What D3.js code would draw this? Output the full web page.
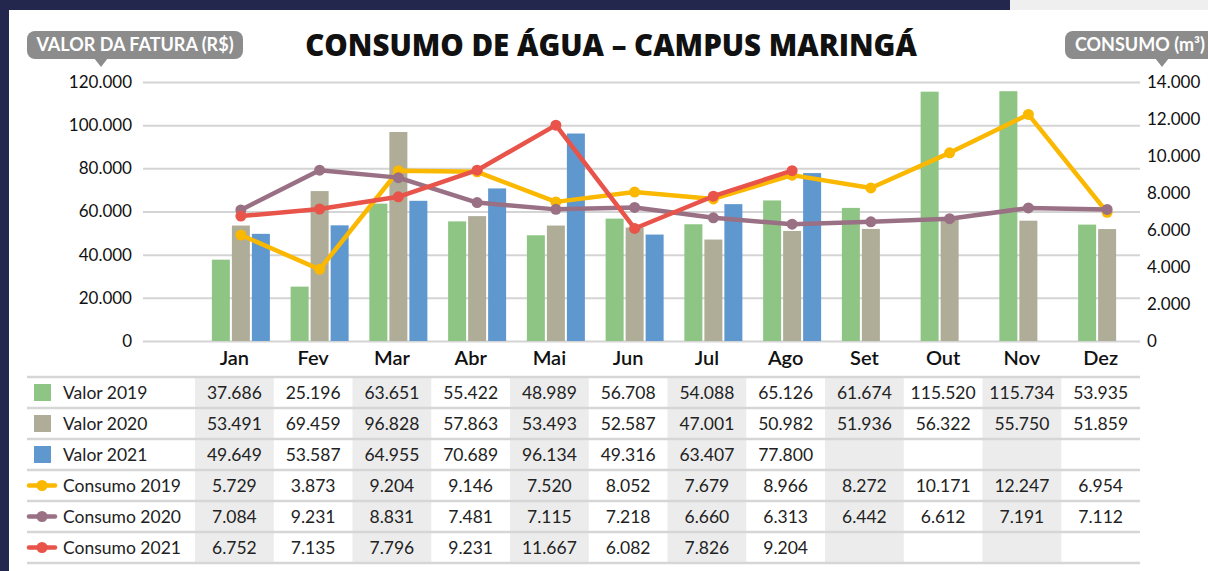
<!DOCTYPE html>
<html>
<head>
<meta charset="utf-8">
<script src="https://cdn.jsdelivr.net/npm/d3@7"></script>
<style>
  body { margin: 0; background: #23264d; }
  svg { display: block; font-family: Lato, "Open Sans", sans-serif; }
</style>
</head>
<body>
<div id="vis"></div>
<script>
// consumo de agua - campus maringa

const FRAME_WIDTH = 1208;
const FRAME_HEIGHT = 571;

// data
const months = ["Jan", "Fev", "Mar", "Abr", "Mai", "Jun", "Jul", "Ago", "Set", "Out", "Nov", "Dez"];
const valor2019 = [37686, 25196, 63651, 55422, 48989, 56708, 54088, 65126, 61674, 115520, 115734, 53935];
const valor2020 = [53491, 69459, 96828, 57863, 53493, 52587, 47001, 50982, 51936, 56322, 55750, 51859];
const valor2021 = [49649, 53587, 64955, 70689, 96134, 49316, 63407, 77800, null, null, null, null];
const consumo2019 = [5729, 3873, 9204, 9146, 7520, 8052, 7679, 8966, 8272, 10171, 12247, 6954];
const consumo2020 = [7084, 9231, 8831, 7481, 7115, 7218, 6660, 6313, 6442, 6612, 7191, 7112];
const consumo2021 = [6752, 7135, 7796, 9231, 11667, 6082, 7826, 9204, null, null, null, null];
const leftTicks = [0, 20000, 40000, 60000, 80000, 100000, 120000];
const rightTicks = [0, 2000, 4000, 6000, 8000, 10000, 12000, 14000];

const barSeries = [
  {name: "Valor 2019", values: valor2019, color: "#8fc584"},
  {name: "Valor 2020", values: valor2020, color: "#afac98"},
  {name: "Valor 2021", values: valor2021, color: "#5f97cf"}
];
const lineSeries = [
  {name: "Consumo 2019", values: consumo2019, color: "#fbb800"},
  {name: "Consumo 2020", values: consumo2020, color: "#9a7085"},
  {name: "Consumo 2021", values: consumo2021, color: "#e8534a"}
];

const ptBR = d3.formatLocale({decimal: ",", thousands: ".", grouping: [3], currency: ["R$", ""]});
const fmt = ptBR.format(",");

const PLOT = {left: 143, right: 1140, top: 82, bottom: 341};
const TABLE = {left: 27, colStart: 195, right: 1140, top: 377, rowH: 31};

const FRAME = d3.select("#vis")
  .append("svg")
    .attr("width", FRAME_WIDTH)
    .attr("height", FRAME_HEIGHT);

// background pieces
FRAME.append("rect").attr("x", 0).attr("y", 0).attr("width", FRAME_WIDTH).attr("height", FRAME_HEIGHT).attr("fill", "#23264d");
FRAME.append("rect").attr("x", 1010).attr("y", 0).attr("width", 198).attr("height", 10).attr("fill", "#efefef");
FRAME.append("rect").attr("x", 9).attr("y", 10).attr("width", FRAME_WIDTH - 9).attr("height", FRAME_HEIGHT - 10).attr("fill", "#ffffff");

// scales
const Y_LEFT = d3.scaleLinear().domain([0, 120000]).range([PLOT.bottom, PLOT.top]);
const Y_RIGHT = d3.scaleLinear().domain([0, 14000]).range([PLOT.bottom, PLOT.top]);
const X_CHART = d3.scaleBand().domain(months).range([201.5, 1146.5]);
const X_TABLE = d3.scaleBand().domain(months).range([TABLE.colStart, TABLE.right]);
const X_INNER = d3.scaleBand().domain(barSeries.map(s => s.name)).range([-29, 29]).paddingInner(0.1);

// left axis + gridlines
const leftAxis = FRAME.append("g")
  .attr("transform", "translate(" + PLOT.left + ",0)")
  .call(d3.axisLeft(Y_LEFT).tickValues(leftTicks).tickFormat(fmt)
    .tickSize(-(PLOT.right - PLOT.left)).tickPadding(11));
leftAxis.select(".domain").remove();
leftAxis.selectAll("line").attr("stroke", "#d4d4d4").attr("stroke-width", 2);
leftAxis.selectAll("text").attr("font-size", 17).attr("fill", "#111").attr("font-family", "Lato");

// right axis
const rightAxis = FRAME.append("g")
  .attr("transform", "translate(" + PLOT.right + ",0)")
  .call(d3.axisRight(Y_RIGHT).tickValues(rightTicks).tickFormat(fmt).tickSize(0).tickPadding(7));
rightAxis.select(".domain").remove();
rightAxis.selectAll("text").attr("font-size", 17).attr("fill", "#111").attr("font-family", "Lato");

// bars
barSeries.forEach(s => {
  FRAME.append("g").selectAll("rect")
    .data(months.map((m, i) => ({m: m, v: s.values[i]})).filter(d => d.v != null))
    .enter()
    .append("rect")
      .attr("x", d => X_CHART(d.m) + X_CHART.bandwidth() / 2 + X_INNER(s.name))
      .attr("y", d => Y_LEFT(d.v))
      .attr("width", X_INNER.bandwidth())
      .attr("height", d => Y_LEFT(0) - Y_LEFT(d.v))
      .attr("fill", s.color);
});

// lines
const line = d3.line()
  .defined(d => d.v != null)
  .x(d => X_CHART(d.m) + X_CHART.bandwidth() / 2)
  .y(d => Y_RIGHT(d.v));

lineSeries.forEach(s => {
  const pts = months.map((m, i) => ({m: m, v: s.values[i]}));
  FRAME.append("path")
    .datum(pts)
    .attr("d", line)
    .attr("fill", "none")
    .attr("stroke", s.color)
    .attr("stroke-width", 4.5)
    .attr("stroke-linejoin", "round");
  FRAME.append("g").selectAll("circle")
    .data(pts.filter(d => d.v != null))
    .enter()
    .append("circle")
      .attr("cx", d => X_CHART(d.m) + X_CHART.bandwidth() / 2)
      .attr("cy", d => Y_RIGHT(d.v))
      .attr("r", 5.5)
      .attr("fill", s.color);
});

// month labels
const monthAxis = FRAME.append("g")
  .attr("transform", "translate(0," + PLOT.bottom + ")")
  .call(d3.axisBottom(X_TABLE).tickSize(0).tickPadding(10));
monthAxis.select(".domain").remove();
monthAxis.selectAll("text").attr("font-size", 20).attr("font-weight", 600).attr("fill", "#111").attr("font-family", "Lato");

// data table
const allRows = barSeries.map(s => Object.assign({type: "bar"}, s))
  .concat(lineSeries.map(s => Object.assign({type: "line"}, s)));
const TABLE_BOTTOM = TABLE.top + allRows.length * TABLE.rowH;

FRAME.append("g").selectAll("rect")
  .data(months.filter((m, i) => i % 2 === 0))
  .enter()
  .append("rect")
    .attr("x", d => X_TABLE(d))
    .attr("y", TABLE.top)
    .attr("width", X_TABLE.bandwidth())
    .attr("height", TABLE_BOTTOM - TABLE.top)
    .attr("fill", "#ececec");

FRAME.append("g").selectAll("line")
  .data(d3.range(allRows.length + 1))
  .enter()
  .append("line")
    .attr("x1", TABLE.left)
    .attr("x2", TABLE.right)
    .attr("y1", d => TABLE.top + d * TABLE.rowH)
    .attr("y2", d => TABLE.top + d * TABLE.rowH)
    .attr("stroke", "#d6d6d6")
    .attr("stroke-width", 2.5);

allRows.forEach((s, r) => {
  const cy = TABLE.top + r * TABLE.rowH + TABLE.rowH / 2;
  const g = FRAME.append("g");
  if (s.type === "bar") {
    g.append("rect").attr("x", 34).attr("y", cy - 8.5).attr("width", 17).attr("height", 17).attr("fill", s.color);
  } else {
    g.append("line").attr("x1", 29).attr("x2", 55).attr("y1", cy).attr("y2", cy)
      .attr("stroke", s.color).attr("stroke-width", 4.5).attr("stroke-linecap", "round");
    g.append("circle").attr("cx", 42).attr("cy", cy).attr("r", 5.5).attr("fill", s.color);
  }
  g.append("text").attr("x", 63).attr("y", cy).attr("dy", "0.35em")
    .attr("font-size", 17.5).attr("fill", "#222").text(s.name);
  g.selectAll(".val")
    .data(months.map((m, i) => ({m: m, v: s.values[i]})).filter(d => d.v != null))
    .enter()
    .append("text")
      .attr("x", d => X_TABLE(d.m) + X_TABLE.bandwidth() / 2)
      .attr("y", cy)
      .attr("dy", "0.35em")
      .attr("text-anchor", "middle")
      .attr("font-size", 17.5)
      .attr("fill", "#222")
      .text(d => fmt(d.v));
});

// title
FRAME.append("text")
  .attr("x", 611).attr("y", 56)
  .attr("text-anchor", "middle")
  .attr("font-family", "'Open Sans'")
  .attr("font-size", 29.5).attr("font-weight", 800).attr("fill", "#111")
  .text("CONSUMO DE ÁGUA – CAMPUS MARINGÁ");

// axis title pills
function pill(x, w, tipX, label) {
  const g = FRAME.append("g");
  g.append("rect").attr("x", x).attr("y", 31).attr("width", w).attr("height", 28).attr("rx", 8).attr("fill", "#8c8c8c");
  g.append("path").attr("d", "M" + (tipX - 7) + ",58 L" + (tipX + 7) + ",58 L" + tipX + ",67 Z").attr("fill", "#8c8c8c");
  g.append("text").attr("x", x + w / 2).attr("y", 45).attr("dy", "0.35em").attr("text-anchor", "middle")
    .attr("font-size", 18).attr("font-weight", 700).attr("fill", "#fff").text(label);
}
pill(27, 216, 101, "VALOR DA FATURA (R$)");
pill(1065, 150, 1162, "CONSUMO (m³)");
</script>
</body>
</html>
